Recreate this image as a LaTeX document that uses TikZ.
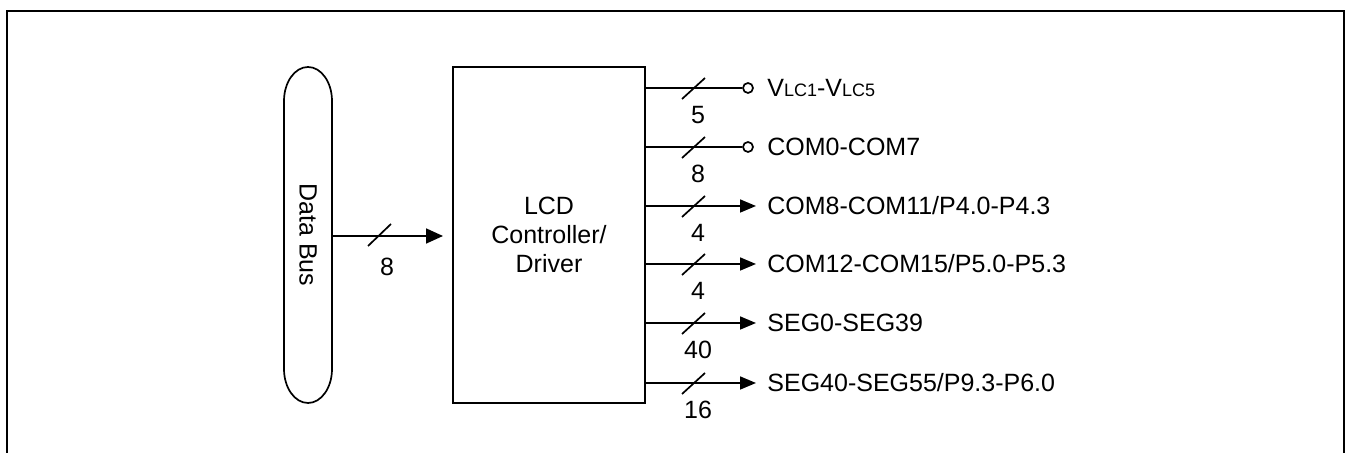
\documentclass[tikz,border=0pt]{standalone}
\usepackage{fontspec}
\setmainfont{Liberation Sans}
\usetikzlibrary{arrows.meta,calc}
\begin{document}
\begin{tikzpicture}[x=0.5pt,y=-0.5pt,
  every node/.style={font=\fontsize{12.5}{14.5}\selectfont},
  wire/.style={line width=0.85pt},
  arr/.style={wire,-{Triangle[length=8pt,width=6.5pt]}},
  slash/.style={line width=0.85pt},
  lbl/.style={anchor=west,inner sep=0pt},
  num/.style={inner sep=0pt},
  endc/.style={circle,draw,line width=0.85pt,inner sep=0pt,minimum size=5pt}]
\useasboundingbox (0,0) rectangle (1348,453);
\draw[line width=1pt] (6.5,453) -- (6.5,11.5) -- (1343.5,11.5) -- (1343.5,453);

\node[rotate=-90,minimum width=168pt,minimum height=24pt,inner sep=0pt] (bus) at (308,235) {Data Bus};
\draw[wire] (284,101) -- (284,369) arc[start angle=180,end angle=360,x radius=24,y radius=-34]
  -- (332,101) arc[start angle=0,end angle=180,x radius=24,y radius=-34] -- cycle;
\node[draw,line width=0.85pt,minimum width=96pt,minimum height=168pt,align=center,inner sep=0pt] (box) at (549,235) {LCD\\Controller/\\Driver};

% data bus arrow
\coordinate (bt) at (443,236);
\draw[wire,-{Triangle[length=8.5pt,width=7.5pt]}] (bus.north |- bt) -- (bt);
\draw[slash] (368,246) -- (391,224);
\node[num] (n0) at (387,267) {8};

% outputs
\node[endc] (c1) at (748,88) {};
\node[endc] (c2) at (748,147) {};
\coordinate (o3) at (756,206);
\coordinate (o4) at (756,264);
\coordinate (o5) at (756,323);
\coordinate (o6) at (756,383);

\draw[wire] (box.east |- c1) -- (c1.west);
\draw[wire] (box.east |- c2) -- (c2.west);
\draw[arr] (box.east |- o3) -- (o3);
\draw[arr] (box.east |- o4) -- (o4);
\draw[arr] (box.east |- o5) -- (o5);
\draw[arr] (box.east |- o6) -- (o6);

\foreach \y in {88,147,206,264,323,383}{
  \draw[slash] (682,\y+11) -- (705,\y-10);
}

\node[num] (n1) at (698,115) {5};
\node[num] (n2) at (698,174) {8};
\node[num] (n3) at (698,233) {4};
\node[num] (n4) at (698,291) {4};
\node[num] (n5) at (698,350) {40};
\node[num] (n6) at (698,410) {16};

\node[lbl] (l1) at (767,88) {V{\fontsize{9}{10}\selectfont LC1}-V{\fontsize{9}{10}\selectfont LC5}};
\node[lbl] (l2) at (767,147) {COM0-COM7};
\node[lbl] (l3) at (767,206) {COM8-COM11/P4.0-P4.3};
\node[lbl] (l4) at (767,264) {COM12-COM15/P5.0-P5.3};
\node[lbl] (l5) at (767,323) {SEG0-SEG39};
\node[lbl] (l6) at (767,383) {SEG40-SEG55/P9.3-P6.0};
\end{tikzpicture}
\end{document}
